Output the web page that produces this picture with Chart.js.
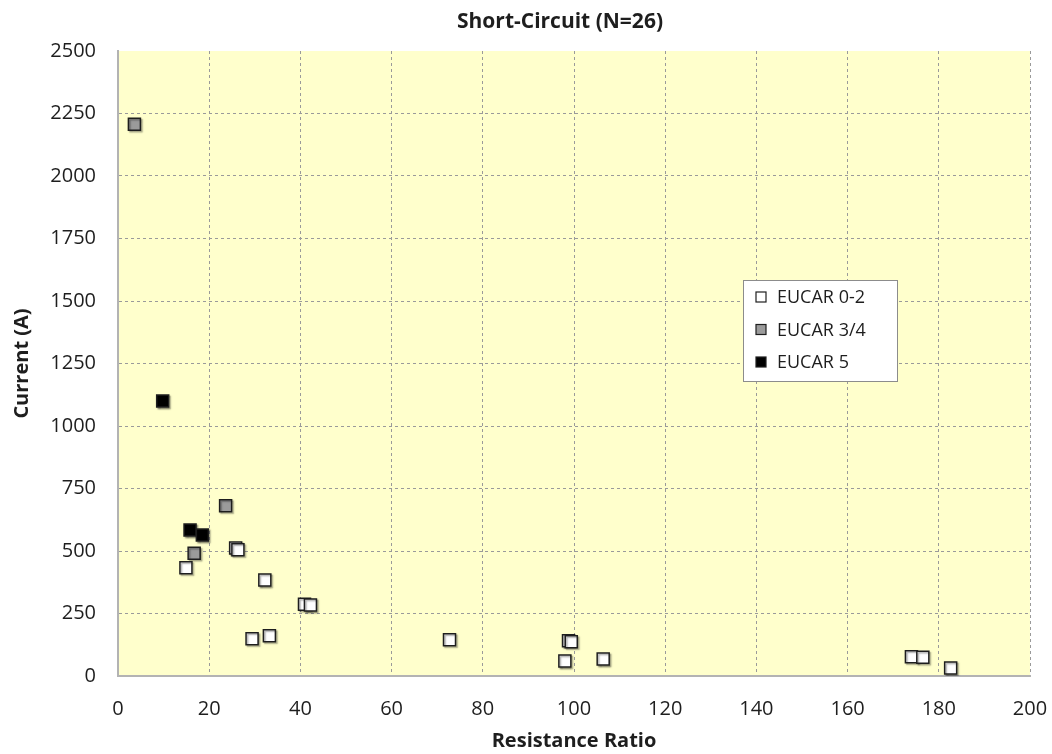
<!DOCTYPE html>
<html>
<head>
<meta charset="utf-8">
<script src="https://cdn.jsdelivr.net/npm/chart.js@4/dist/chart.umd.min.js"></script>
<style>
  html, body { margin: 0; padding: 0; background: #ffffff; }
  #wrap { width: 1052px; height: 754px; }
</style>
</head>
<body>
<div id="wrap"><canvas id="c" width="1052" height="754"></canvas></div>
<script>
// Short-circuit tests: current vs. resistance ratio, grouped by EUCAR hazard level
const chartTitle = 'Short-Circuit (N=26)';
const xTitle = 'Resistance Ratio';
const yTitle = 'Current (A)';
const seriesNames = ['EUCAR 0-2', 'EUCAR 3/4', 'EUCAR 5'];

const eucar02Ratio   = [14.9, 25.8, 26.3, 29.4, 32.2, 33.2, 40.9, 42.2, 72.7, 98.0, 98.8, 99.4, 106.4, 174.0, 176.5, 182.6];
const eucar02Current = [433, 512, 505, 149, 384, 161, 287, 284, 145, 60, 141, 137, 68, 77, 75, 32];

const eucar34Ratio   = [3.6, 16.7, 23.6];
const eucar34Current = [2207, 491, 681];

const eucar5Ratio    = [9.8, 15.8, 18.5];
const eucar5Current  = [1100, 584, 564];

const xTicks = { min: 0, max: 200, step: 20 };
const yTicks = { min: 0, max: 2500, step: 250 };

const FONT = '"Open Sans", "Liberation Sans", sans-serif';
const INK = '#1e1e1e';
const fills = ['#ffffff', '#9b9b9b', '#000000'];

function toPoints(xs, ys) {
  return xs.map((x, i) => ({ x: x, y: ys[i] }));
}

const plotBackground = {
  id: 'plotBackground',
  beforeDraw(chart) {
    const { ctx, chartArea: a } = chart;
    ctx.save();
    ctx.fillStyle = '#ffffcc';
    ctx.fillRect(a.left, a.top, a.right - a.left, a.bottom - a.top);
    ctx.restore();
  }
};

const markerShadow = {
  id: 'markerShadow',
  beforeDatasetsDraw(chart) {
    const ctx = chart.ctx;
    ctx.save();
    ctx.shadowColor = 'rgba(0,0,0,0.35)';
    ctx.shadowOffsetX = 1.5;
    ctx.shadowOffsetY = 1.5;
    ctx.shadowBlur = 1.5;
  },
  afterDatasetsDraw(chart) {
    chart.ctx.restore();
  }
};

const headline = {
  id: 'headline',
  afterDraw(chart) {
    const { ctx, chartArea: a } = chart;
    ctx.save();
    ctx.font = 'bold 21px ' + FONT;
    ctx.fillStyle = INK;
    ctx.textAlign = 'center';
    ctx.textBaseline = 'middle';
    ctx.fillText(chartTitle, (a.left + a.right) / 2 - 14, 22);
    ctx.restore();
  }
};

const boxLegend = {
  id: 'boxLegend',
  afterDraw(chart) {
    const { ctx, chartArea: a } = chart;
    const left = a.left + 625, top = a.top + 229, w = 154, h = 101;
    ctx.save();
    ctx.fillStyle = '#ffffff';
    ctx.fillRect(left, top, w, h);
    ctx.strokeStyle = '#8c8c8c';
    ctx.lineWidth = 1;
    ctx.strokeRect(left + 0.5, top + 0.5, w, h);
    ctx.font = '18px ' + FONT;
    ctx.textBaseline = 'middle';
    chart.data.datasets.forEach((ds, i) => {
      const cy = top + 17 + i * 32.5;
      const s = 10;
      ctx.fillStyle = ds.backgroundColor;
      ctx.fillRect(left + 13, cy - s / 2, s, s);
      ctx.strokeStyle = INK;
      ctx.lineWidth = 1.2;
      ctx.strokeRect(left + 13, cy - s / 2, s, s);
      ctx.fillStyle = INK;
      ctx.textAlign = 'left';
      ctx.fillText(ds.label, left + 34, cy + 1);
    });
    ctx.restore();
  }
};

const datasets = [
  [eucar02Ratio, eucar02Current],
  [eucar34Ratio, eucar34Current],
  [eucar5Ratio, eucar5Current]
].map(([xs, ys], i) => ({
  label: seriesNames[i],
  data: toPoints(xs, ys),
  backgroundColor: fills[i],
  borderColor: INK,
  borderWidth: 1.5,
  pointStyle: 'rect',
  pointRadius: 8.5,
  pointHoverRadius: 8.5
}));

new Chart(document.getElementById('c'), {
  type: 'scatter',
  data: { datasets: datasets },
  plugins: [plotBackground, markerShadow, headline, boxLegend],
  options: {
    responsive: false,
    animation: false,
    events: [],
    layout: { padding: { top: 51, right: 22, left: 0, bottom: 0 } },
    plugins: {
      legend: { display: false },
      title: { display: false },
      tooltip: { enabled: false }
    },
    scales: {
      x: {
        type: 'linear',
        min: xTicks.min,
        max: xTicks.max,
        afterFit(scale) {
          scale.height = 78;
          scale.paddingLeft = 0;
          scale.paddingRight = 0;
        },
        ticks: {
          stepSize: xTicks.step,
          color: INK,
          padding: 21,
          font: { family: FONT, size: 20 },
          callback: (v) => String(v)
        },
        grid: {
          drawTicks: false,
          color: '#9a9a9a',
          lineWidth: 1
        },
        border: { display: true, color: '#b3b3b3', width: 2, dash: [3, 3] },
        title: {
          display: true,
          text: xTitle,
          color: INK,
          font: { family: FONT, size: 20, weight: 'bold' },
          padding: { top: 0, bottom: 1 }
        }
      },
      y: {
        type: 'linear',
        min: yTicks.min,
        max: yTicks.max,
        afterFit(scale) {
          scale.width = 118;
          scale.paddingTop = 0;
          scale.paddingBottom = 0;
        },
        ticks: {
          stepSize: yTicks.step,
          color: INK,
          padding: 22,
          font: { family: FONT, size: 20 },
          callback: (v) => String(v)
        },
        grid: {
          drawTicks: false,
          color: (c) => (c.tick && c.tick.value === yTicks.max ? 'rgba(0,0,0,0)' : '#9a9a9a'),
          lineWidth: 1
        },
        border: { display: true, color: '#b3b3b3', width: 2, dash: [3, 3] },
        title: {
          display: true,
          text: yTitle,
          color: INK,
          font: { family: FONT, size: 20, weight: 'bold' },
          padding: { top: 10, bottom: 0 }
        }
      }
    }
  }
});
</script>
</body>
</html>
